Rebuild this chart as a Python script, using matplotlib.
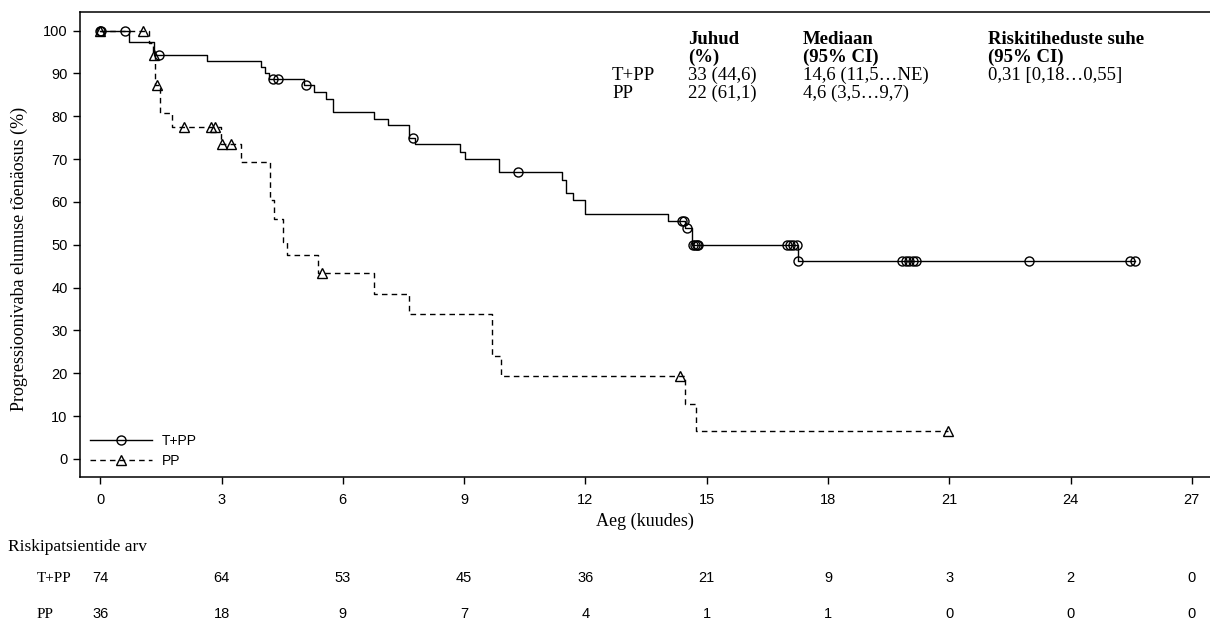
import numpy as np
import matplotlib
matplotlib.use("Agg")
import matplotlib.pyplot as plt
from matplotlib.transforms import blended_transform_factory

# Kaplan-Meier step curves (month, survival % after step)
tpp_times = [0, 0.70, 1.34, 2.65, 3.97, 4.07, 4.18, 5.05, 5.29, 5.58, 5.77, 6.78, 7.13,
             7.65, 7.78, 8.90, 9.03, 9.87, 11.43, 11.52, 11.69, 11.99, 14.05, 14.47,
             14.63, 17.27, 25.6]
tpp_surv = [100, 97.3, 94.4, 92.8, 91.4, 90.0, 88.6, 87.2, 85.6, 84.1, 81.0, 79.4, 77.9,
            74.9, 73.4, 71.6, 70.1, 67.0, 65.0, 62.1, 60.5, 57.1, 55.5, 53.8,
            50.0, 46.2, 46.2]
tpp_cens_t = [0, 0.02, 0.62, 1.46, 4.28, 4.40, 5.10, 7.74, 10.34, 14.38, 14.43, 14.51,
              14.66, 14.70, 14.75, 14.79, 16.98, 17.06, 17.14, 17.23, 17.27, 19.82,
              19.92, 20.00, 20.10, 20.19, 22.97, 25.47, 25.59]
tpp_cens_s = [100, 100, 100, 94.4, 88.6, 88.6, 87.2, 74.9, 67.0, 55.5, 55.5, 53.8,
              50.0, 50.0, 50.0, 50.0, 50.0, 50.0, 50.0, 50.0, 46.2, 46.2,
              46.2, 46.2, 46.2, 46.2, 46.2, 46.2, 46.2]

pp_times = [0, 1.20, 1.30, 1.36, 1.47, 1.78, 2.98, 3.49, 4.20, 4.30, 4.51, 4.63, 5.38,
            6.76, 7.63, 9.70, 9.91, 14.47, 14.73, 20.97]
pp_surv = [100, 97.2, 94.4, 87.4, 80.8, 77.4, 73.4, 69.2, 60.4, 56.1, 50.7, 47.7, 43.3,
           38.6, 33.8, 24.0, 19.4, 12.8, 6.5, 6.5]
pp_cens_t = [0, 1.07, 1.32, 1.40, 2.07, 2.73, 2.85, 3.00, 3.23, 5.48, 14.33, 20.97]
pp_cens_s = [100, 100, 94.4, 87.4, 77.4, 77.4, 77.4, 73.4, 73.4, 43.3, 19.4, 6.5]

x_ticks = [0, 3, 6, 9, 12, 15, 18, 21, 24, 27]
y_ticks = [0, 10, 20, 30, 40, 50, 60, 70, 80, 90, 100]

risk_tpp = [74, 64, 53, 45, 36, 21, 9, 3, 2, 0]
risk_pp = [36, 18, 9, 7, 4, 1, 1, 0, 0, 0]

stats_header = [["Juhud", "(%)"], ["Mediaan", "(95% CI)"], ["Riskitiheduste suhe", "(95% CI)"]]
stats_rows = [
    ["T+PP", "33 (44,6)", "14,6 (11,5\u2026NE)", "0,31 [0,18\u20260,55]"],
    ["PP", "22 (61,1)", "4,6 (3,5\u20269,7)", ""],
]

W, H = 1210, 622
fig = plt.figure(figsize=(W / 100, H / 100), dpi=100)
ax = fig.add_axes([80 / W, 1 - 477.3 / H, 1 - 80 / W, (477.3 - 11.7) / H])

sans = "Liberation Sans"
serif = "Liberation Serif"

ax.plot(tpp_times, tpp_surv, drawstyle="steps-post", color="black", lw=1.0)
ax.plot(tpp_cens_t, tpp_cens_s, ls="none", marker="o", ms=6.5, mfc="none",
        mec="black", mew=1.0)
ax.plot(pp_times, pp_surv, drawstyle="steps-post", color="black", lw=1.0,
        dashes=(4, 3))
ax.plot(pp_cens_t, pp_cens_s, ls="none", marker="^", ms=6.5, mfc="none",
        mec="black", mew=1.0)

# legend handles
h1, = ax.plot([], [], color="black", lw=1.0, marker="o", ms=6.5, mfc="none", mew=1.0)
h2, = ax.plot([], [], color="black", lw=1.0, dashes=(4, 3), marker="^", ms=6.5,
              mfc="none", mew=1.0)
ax.legend([h1, h2], ["T+PP", "PP"], loc="lower left", bbox_to_anchor=(0.004, 0.008),
          frameon=False, handlelength=4.45, handletextpad=0.72, labelspacing=0.45,
          borderaxespad=0, prop={"family": sans, "size": 10})

ax.set_xlim(-0.5, 27.45)
ax.set_ylim(-4.3, 104.4)
ax.set_xticks(x_ticks)
ax.set_yticks(y_ticks)
ax.tick_params(direction="out", length=5, width=1, labelsize=10.5, pad=4)
for lab in ax.get_xticklabels() + ax.get_yticklabels():
    lab.set_fontfamily(sans)
ax.tick_params(axis="x", pad=6)
ax.spines["right"].set_visible(False)
for sp in ["left", "top", "bottom"]:
    ax.spines[sp].set_linewidth(1.1)

ax.set_xlabel("Aeg (kuudes)", fontfamily=serif, fontsize=13)
ax.xaxis.set_label_coords(0.5, -0.076)
ax.set_ylabel("Progressioonivaba elumuse tõenäosus (%)", fontfamily=serif,
              fontsize=13)
ax.yaxis.set_label_coords(-0.046, 0.47)


def fx(px):
    return px / W


def fy(py):
    return 1 - py / H


# statistics table
col_x = [688, 803, 988]
for cx, lines in zip(col_x, stats_header):
    for i, txt in enumerate(lines):
        fig.text(fx(cx), fy(39.5 + 17.7 * i), txt, fontfamily=serif, fontsize=13.5,
                 fontweight="bold", va="center", ha="left")
for r, row in enumerate(stats_rows):
    yy = fy(75.5 + 17.5 * r)
    fig.text(fx(612), yy, row[0], fontfamily=serif, fontsize=13.5, va="center")
    for cx, txt in zip(col_x, row[1:]):
        fig.text(fx(cx), yy, txt, fontfamily=serif, fontsize=13.5, va="center")

# number at risk table
fig.text(fx(8), fy(547), "Riskipatsientide arv", fontfamily=serif, fontsize=12.5,
         va="center")
tr = blended_transform_factory(ax.transData, fig.transFigure)
for name, counts, py in [("T+PP", risk_tpp, 578), ("PP", risk_pp, 614)]:
    fig.text(fx(37), fy(py), name, fontfamily=serif, fontsize=11, va="center")
    for xt, n in zip(x_ticks, counts):
        ax.text(xt, fy(py), str(n), transform=tr, fontfamily=sans, fontsize=10.5,
                ha="center", va="center", clip_on=False)

fig.savefig("out.png", dpi=100)
